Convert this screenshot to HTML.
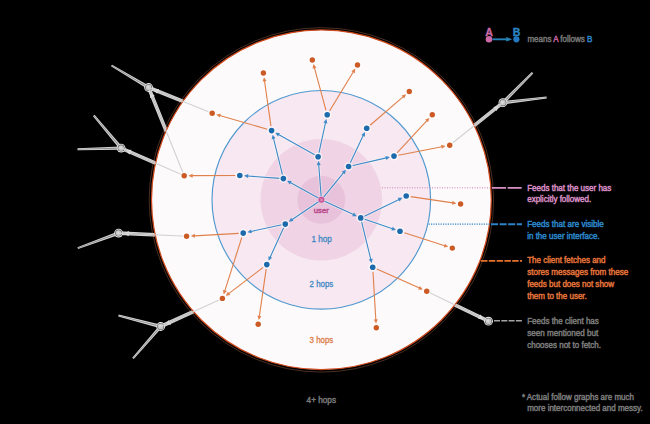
<!DOCTYPE html>
<html><head><meta charset="utf-8"><style>
html,body{margin:0;padding:0;background:#000;width:650px;height:424px;overflow:hidden}
svg{display:block}
text{font-family:"Liberation Sans",sans-serif}
</style></head><body>
<svg width="650" height="424" viewBox="0 0 650 424">
<rect width="650" height="424" fill="#000"/>
<line x1="212.2" y1="113.2" x2="148.6" y2="87.5" stroke="#d4d4d4" stroke-width="3.6"/><line x1="212.2" y1="113.2" x2="148.6" y2="87.5" stroke="#8c8c8c" stroke-width="1.2"/><line x1="184.2" y1="175.7" x2="148.6" y2="87.5" stroke="#d4d4d4" stroke-width="3.6"/><line x1="184.2" y1="175.7" x2="148.6" y2="87.5" stroke="#8c8c8c" stroke-width="1.2"/><line x1="184.2" y1="175.7" x2="121.1" y2="148.1" stroke="#d4d4d4" stroke-width="3.6"/><line x1="184.2" y1="175.7" x2="121.1" y2="148.1" stroke="#8c8c8c" stroke-width="1.2"/><line x1="186.6" y1="236.3" x2="118.6" y2="233.1" stroke="#d4d4d4" stroke-width="3.6"/><line x1="186.6" y1="236.3" x2="118.6" y2="233.1" stroke="#8c8c8c" stroke-width="1.2"/><line x1="222.4" y1="298.4" x2="160.7" y2="326.5" stroke="#d4d4d4" stroke-width="3.6"/><line x1="222.4" y1="298.4" x2="160.7" y2="326.5" stroke="#8c8c8c" stroke-width="1.2"/><line x1="449.7" y1="145.2" x2="502.9" y2="102.7" stroke="#d4d4d4" stroke-width="3.6"/><line x1="449.7" y1="145.2" x2="502.9" y2="102.7" stroke="#8c8c8c" stroke-width="1.2"/><line x1="426.7" y1="291.3" x2="488.5" y2="321.2" stroke="#d4d4d4" stroke-width="3.6"/><line x1="426.7" y1="291.3" x2="488.5" y2="321.2" stroke="#8c8c8c" stroke-width="1.2"/>
<polygon points="149.47,86.04 112.01,64.64 110.99,66.36 147.73,88.96" fill="#d6d6d6"/><polygon points="148.88,87.03 111.65,65.24 111.35,65.76 148.32,87.97" fill="#8e8e8e"/><polygon points="122.40,147.01 94.57,114.86 93.03,116.14 119.80,149.19" fill="#d6d6d6"/><polygon points="121.52,147.75 94.03,115.31 93.57,115.69 120.68,148.45" fill="#8e8e8e"/><polygon points="121.05,146.40 77.47,148.30 77.53,150.30 121.15,149.80" fill="#d6d6d6"/><polygon points="121.08,147.55 77.49,149.00 77.51,149.60 121.12,148.65" fill="#8e8e8e"/><polygon points="118.01,231.50 77.45,247.16 78.15,249.04 119.19,234.70" fill="#d6d6d6"/><polygon points="118.41,232.58 77.70,247.82 77.90,248.38 118.79,233.62" fill="#8e8e8e"/><polygon points="161.13,324.85 118.75,314.53 118.25,316.47 160.27,328.15" fill="#d6d6d6"/><polygon points="160.84,325.97 118.58,315.21 118.42,315.79 160.56,327.03" fill="#8e8e8e"/><polygon points="159.42,325.39 132.24,357.74 133.76,359.06 161.98,327.61" fill="#d6d6d6"/><polygon points="160.28,326.14 132.77,358.20 133.23,358.60 161.12,326.86" fill="#8e8e8e"/><polygon points="504.11,103.89 533.21,73.40 531.79,72.00 501.69,101.51" fill="#d6d6d6"/><polygon points="503.29,103.09 532.71,72.91 532.29,72.49 502.51,102.31" fill="#8e8e8e"/><polygon points="503.10,104.39 546.72,98.49 546.48,96.51 502.70,101.01" fill="#d6d6d6"/><polygon points="502.96,103.25 546.64,97.80 546.56,97.20 502.84,102.15" fill="#8e8e8e"/>
<circle cx="148.6" cy="87.5" r="4.4" fill="#eeeeee"/><circle cx="148.6" cy="87.5" r="3.5" fill="#505050"/><circle cx="148.6" cy="87.5" r="2.9" fill="#c6c6c6"/><circle cx="148.1" cy="87.0" r="1.3" fill="#dcdcdc"/><circle cx="121.1" cy="148.1" r="4.4" fill="#eeeeee"/><circle cx="121.1" cy="148.1" r="3.5" fill="#505050"/><circle cx="121.1" cy="148.1" r="2.9" fill="#c6c6c6"/><circle cx="120.6" cy="147.6" r="1.3" fill="#dcdcdc"/><circle cx="118.6" cy="233.1" r="4.4" fill="#eeeeee"/><circle cx="118.6" cy="233.1" r="3.5" fill="#505050"/><circle cx="118.6" cy="233.1" r="2.9" fill="#c6c6c6"/><circle cx="118.1" cy="232.6" r="1.3" fill="#dcdcdc"/><circle cx="160.7" cy="326.5" r="4.4" fill="#eeeeee"/><circle cx="160.7" cy="326.5" r="3.5" fill="#505050"/><circle cx="160.7" cy="326.5" r="2.9" fill="#c6c6c6"/><circle cx="160.2" cy="326.0" r="1.3" fill="#dcdcdc"/><circle cx="502.9" cy="102.7" r="4.4" fill="#eeeeee"/><circle cx="502.9" cy="102.7" r="3.5" fill="#505050"/><circle cx="502.9" cy="102.7" r="2.9" fill="#c6c6c6"/><circle cx="502.4" cy="102.2" r="1.3" fill="#dcdcdc"/><circle cx="488.5" cy="321.2" r="4.4" fill="#eeeeee"/><circle cx="488.5" cy="321.2" r="3.5" fill="#505050"/><circle cx="488.5" cy="321.2" r="2.9" fill="#c6c6c6"/><circle cx="488.0" cy="320.7" r="1.3" fill="#dcdcdc"/>
<polygon points="153.42,89.45 159.03,88.91 157.08,93.73" fill="#e0e0e0"/><polygon points="150.55,92.32 154.83,95.99 150.01,97.93" fill="#e0e0e0"/><polygon points="125.86,150.18 131.49,149.81 129.40,154.57" fill="#e0e0e0"/><polygon points="123.79,233.34 128.91,230.98 128.67,236.18" fill="#e0e0e0"/><polygon points="165.43,324.34 168.91,319.91 171.06,324.64" fill="#e0e0e0"/><polygon points="498.84,105.95 496.55,111.10 493.31,107.04" fill="#e0e0e0"/><polygon points="483.82,318.94 478.19,319.10 480.45,314.42" fill="#e0e0e0"/>
<circle cx="321.4" cy="199.9" r="172.2" fill="none" stroke="rgba(235,150,110,0.35)" stroke-width="0.9"/><circle cx="321.4" cy="199.8" r="169.9" fill="#fdfafc" stroke="#d04a1c" stroke-width="1.25"/>
<circle cx="321.3" cy="199.8" r="109.3" fill="#f7e8f1" stroke="#5299cf" stroke-width="1.15"/>
<circle cx="321.3" cy="199.8" r="60.8" fill="#f0d4e5"/>
<circle cx="321.3" cy="199.8" r="24" fill="#e8c2da"/>
<line x1="382" y1="187.8" x2="491" y2="187.8" stroke="#d27fb6" stroke-width="1" stroke-dasharray="1,1.5"/>
<line x1="492" y1="187.8" x2="522" y2="187.8" stroke="#d890c6" stroke-width="1.7" stroke-dasharray="14,1.6"/>
<line x1="428.6" y1="224.2" x2="491" y2="224.2" stroke="#3286c6" stroke-width="1.2" stroke-dasharray="1.2,1.2"/>
<line x1="491" y1="224.2" x2="522" y2="224.2" stroke="#2a82c8" stroke-width="1.9" stroke-dasharray="7,1.6"/>
<line x1="481" y1="260.9" x2="522" y2="260.9" stroke="#e4702e" stroke-width="1.9" stroke-dasharray="6.5,1.3"/>
<line x1="494" y1="320.7" x2="522" y2="320.7" stroke="#a4a4a4" stroke-width="1.5" stroke-dasharray="6,1.3"/>
<line x1="212.2" y1="113.2" x2="148.6" y2="87.5" stroke="#d2d2d2" stroke-width="1.1"/><line x1="184.2" y1="175.7" x2="148.6" y2="87.5" stroke="#d2d2d2" stroke-width="1.1"/><line x1="184.2" y1="175.7" x2="121.1" y2="148.1" stroke="#d2d2d2" stroke-width="1.1"/><line x1="186.6" y1="236.3" x2="118.6" y2="233.1" stroke="#d2d2d2" stroke-width="1.1"/><line x1="222.4" y1="298.4" x2="160.7" y2="326.5" stroke="#d2d2d2" stroke-width="1.1"/><line x1="449.7" y1="145.2" x2="502.9" y2="102.7" stroke="#d2d2d2" stroke-width="1.1"/><line x1="426.7" y1="291.3" x2="488.5" y2="321.2" stroke="#d2d2d2" stroke-width="1.1"/>
<line x1="270.97" y1="126.14" x2="264.51" y2="80.82" stroke="#e0804a" stroke-width="1.1"/><polygon points="263.99,77.16 266.56,81.03 262.60,81.60" fill="#e0804a"/><line x1="267.28" y1="129.33" x2="219.78" y2="115.42" stroke="#e0804a" stroke-width="1.1"/><polygon points="216.23,114.38 220.82,113.64 219.70,117.48" fill="#e0804a"/><line x1="326.02" y1="110.46" x2="314.37" y2="67.62" stroke="#e0804a" stroke-width="1.1"/><polygon points="313.40,64.05 316.43,67.58 312.57,68.63" fill="#e0804a"/><line x1="329.54" y1="110.96" x2="353.39" y2="71.75" stroke="#e0804a" stroke-width="1.1"/><polygon points="355.32,68.59 354.84,73.22 351.43,71.14" fill="#e0804a"/><line x1="370.11" y1="125.26" x2="403.31" y2="96.66" stroke="#e0804a" stroke-width="1.1"/><polygon points="406.12,94.24 404.24,98.50 401.63,95.47" fill="#e0804a"/><line x1="397.06" y1="152.80" x2="426.93" y2="120.59" stroke="#e0804a" stroke-width="1.1"/><polygon points="429.44,117.88 428.05,122.32 425.12,119.60" fill="#e0804a"/><line x1="398.42" y1="155.24" x2="441.95" y2="146.72" stroke="#e0804a" stroke-width="1.1"/><polygon points="445.58,146.01 441.84,148.78 441.07,144.85" fill="#e0804a"/><line x1="410.65" y1="196.65" x2="452.78" y2="202.85" stroke="#e0804a" stroke-width="1.1"/><polygon points="456.44,203.39 452.00,204.76 452.58,200.80" fill="#e0804a"/><line x1="404.28" y1="232.68" x2="444.78" y2="245.68" stroke="#e0804a" stroke-width="1.1"/><polygon points="448.30,246.82 443.69,247.44 444.91,243.63" fill="#e0804a"/><line x1="376.81" y1="269.03" x2="419.49" y2="288.08" stroke="#e0804a" stroke-width="1.1"/><polygon points="422.86,289.59 418.21,289.70 419.84,286.05" fill="#e0804a"/><line x1="372.97" y1="271.69" x2="375.83" y2="319.91" stroke="#e0804a" stroke-width="1.1"/><polygon points="376.05,323.61 373.81,319.53 377.80,319.30" fill="#e0804a"/><line x1="266.16" y1="269.05" x2="259.33" y2="316.38" stroke="#e0804a" stroke-width="1.1"/><polygon points="258.80,320.04 257.42,315.60 261.38,316.17" fill="#e0804a"/><line x1="263.22" y1="267.33" x2="228.69" y2="293.61" stroke="#e0804a" stroke-width="1.1"/><polygon points="225.74,295.86 227.87,291.72 230.30,294.90" fill="#e0804a"/><line x1="238.71" y1="233.35" x2="194.49" y2="235.85" stroke="#e0804a" stroke-width="1.1"/><polygon points="190.79,236.06 194.87,233.83 195.10,237.82" fill="#e0804a"/><line x1="241.83" y1="237.39" x2="224.80" y2="290.87" stroke="#e0804a" stroke-width="1.1"/><polygon points="223.67,294.40 223.04,289.79 226.86,291.00" fill="#e0804a"/><line x1="235.30" y1="175.52" x2="192.10" y2="175.67" stroke="#e0804a" stroke-width="1.1"/><polygon points="188.40,175.68 192.59,173.67 192.61,177.67" fill="#e0804a"/>
<line x1="318.84" y1="153.28" x2="325.42" y2="123.01" stroke="rgba(255,255,255,0.5)" stroke-width="2.7"/><line x1="318.84" y1="153.28" x2="325.52" y2="122.52" stroke="#3b89c5" stroke-width="1.1"/><polygon points="326.31,118.90 327.37,123.43 323.46,122.58" fill="#3b89c5"/><line x1="315.05" y1="154.99" x2="278.93" y2="134.71" stroke="rgba(255,255,255,0.5)" stroke-width="2.7"/><line x1="315.05" y1="154.99" x2="278.49" y2="134.47" stroke="#3b89c5" stroke-width="1.1"/><polygon points="275.26,132.66 279.90,132.97 277.95,136.46" fill="#3b89c5"/><line x1="282.56" y1="175.20" x2="273.61" y2="138.76" stroke="rgba(255,255,255,0.5)" stroke-width="2.7"/><line x1="282.56" y1="175.20" x2="273.49" y2="138.27" stroke="#3b89c5" stroke-width="1.1"/><polygon points="272.60,134.68 275.55,138.28 271.66,139.23" fill="#3b89c5"/><line x1="279.91" y1="178.35" x2="248.18" y2="176.10" stroke="rgba(255,255,255,0.5)" stroke-width="2.7"/><line x1="279.91" y1="178.35" x2="247.68" y2="176.06" stroke="#3b89c5" stroke-width="1.1"/><polygon points="243.99,175.80 248.32,174.10 248.04,178.09" fill="#3b89c5"/><line x1="350.10" y1="163.34" x2="363.11" y2="135.79" stroke="rgba(255,255,255,0.5)" stroke-width="2.7"/><line x1="350.10" y1="163.34" x2="363.32" y2="135.34" stroke="#3b89c5" stroke-width="1.1"/><polygon points="364.91,132.00 364.92,136.65 361.30,134.94" fill="#3b89c5"/><line x1="352.01" y1="165.72" x2="385.81" y2="157.98" stroke="rgba(255,255,255,0.5)" stroke-width="2.7"/><line x1="352.01" y1="165.72" x2="386.30" y2="157.86" stroke="#3b89c5" stroke-width="1.1"/><polygon points="389.91,157.04 386.26,159.93 385.37,156.03" fill="#3b89c5"/><line x1="363.85" y1="216.38" x2="398.63" y2="199.64" stroke="rgba(255,255,255,0.5)" stroke-width="2.7"/><line x1="363.85" y1="216.38" x2="399.08" y2="199.43" stroke="#3b89c5" stroke-width="1.1"/><polygon points="402.42,197.82 399.50,201.45 397.76,197.84" fill="#3b89c5"/><line x1="364.01" y1="219.03" x2="392.05" y2="228.59" stroke="rgba(255,255,255,0.5)" stroke-width="2.7"/><line x1="364.01" y1="219.03" x2="392.52" y2="228.75" stroke="#3b89c5" stroke-width="1.1"/><polygon points="396.02,229.94 391.40,230.48 392.69,226.70" fill="#3b89c5"/><line x1="361.53" y1="221.30" x2="370.71" y2="259.04" stroke="rgba(255,255,255,0.5)" stroke-width="2.7"/><line x1="361.53" y1="221.30" x2="370.83" y2="259.52" stroke="#3b89c5" stroke-width="1.1"/><polygon points="371.71,263.12 368.77,259.51 372.66,258.57" fill="#3b89c5"/><line x1="281.88" y1="224.83" x2="251.41" y2="231.34" stroke="rgba(255,255,255,0.5)" stroke-width="2.7"/><line x1="281.88" y1="224.83" x2="250.93" y2="231.45" stroke="#3b89c5" stroke-width="1.1"/><polygon points="247.31,232.22 251.00,229.39 251.83,233.30" fill="#3b89c5"/><line x1="283.85" y1="227.28" x2="270.29" y2="256.96" stroke="rgba(255,255,255,0.5)" stroke-width="2.7"/><line x1="283.85" y1="227.28" x2="270.08" y2="257.41" stroke="#3b89c5" stroke-width="1.1"/><polygon points="268.55,260.78 268.47,256.13 272.11,257.79" fill="#3b89c5"/>
<line x1="321.13" y1="196.31" x2="318.74" y2="165.08" stroke="rgba(255,255,255,0.5)" stroke-width="2.7"/><line x1="321.13" y1="196.31" x2="318.70" y2="164.58" stroke="#3b89c5" stroke-width="1.1"/><polygon points="318.42,160.89 320.74,164.92 316.75,165.23" fill="#3b89c5"/><line x1="323.61" y1="197.09" x2="343.29" y2="173.01" stroke="rgba(255,255,255,0.5)" stroke-width="2.7"/><line x1="323.61" y1="197.09" x2="343.60" y2="172.62" stroke="#3b89c5" stroke-width="1.1"/><polygon points="345.94,169.75 344.84,174.27 341.74,171.74" fill="#3b89c5"/><line x1="318.34" y1="198.09" x2="290.74" y2="182.69" stroke="rgba(255,255,255,0.5)" stroke-width="2.7"/><line x1="318.34" y1="198.09" x2="290.30" y2="182.45" stroke="#3b89c5" stroke-width="1.1"/><polygon points="287.07,180.65 291.71,180.95 289.76,184.44" fill="#3b89c5"/><line x1="318.50" y1="201.75" x2="292.27" y2="219.41" stroke="rgba(255,255,255,0.5)" stroke-width="2.7"/><line x1="318.50" y1="201.75" x2="291.85" y2="219.69" stroke="#3b89c5" stroke-width="1.1"/><polygon points="288.78,221.75 291.15,217.75 293.39,221.07" fill="#3b89c5"/><line x1="324.58" y1="201.26" x2="353.07" y2="214.39" stroke="rgba(255,255,255,0.5)" stroke-width="2.7"/><line x1="324.58" y1="201.26" x2="353.52" y2="214.60" stroke="#3b89c5" stroke-width="1.1"/><polygon points="356.89,216.14 352.23,216.20 353.91,212.57" fill="#3b89c5"/>
<circle cx="318.1" cy="156.7" r="4.3" fill="rgba(255,255,255,0.6)"/><circle cx="318.1" cy="156.7" r="2.8" fill="#1b6aab"/><circle cx="348.6" cy="166.5" r="4.3" fill="rgba(255,255,255,0.6)"/><circle cx="348.6" cy="166.5" r="2.8" fill="#1b6aab"/><circle cx="283.4" cy="178.6" r="4.3" fill="rgba(255,255,255,0.6)"/><circle cx="283.4" cy="178.6" r="2.8" fill="#1b6aab"/><circle cx="285.3" cy="224.1" r="4.3" fill="rgba(255,255,255,0.6)"/><circle cx="285.3" cy="224.1" r="2.8" fill="#1b6aab"/><circle cx="360.7" cy="217.9" r="4.3" fill="rgba(255,255,255,0.6)"/><circle cx="360.7" cy="217.9" r="2.8" fill="#1b6aab"/><circle cx="327.2" cy="114.8" r="4.3" fill="rgba(255,255,255,0.6)"/><circle cx="327.2" cy="114.8" r="2.8" fill="#1b6aab"/><circle cx="271.6" cy="130.6" r="4.3" fill="rgba(255,255,255,0.6)"/><circle cx="271.6" cy="130.6" r="2.8" fill="#1b6aab"/><circle cx="239.8" cy="175.5" r="4.3" fill="rgba(255,255,255,0.6)"/><circle cx="239.8" cy="175.5" r="2.8" fill="#1b6aab"/><circle cx="366.7" cy="128.2" r="4.3" fill="rgba(255,255,255,0.6)"/><circle cx="366.7" cy="128.2" r="2.8" fill="#1b6aab"/><circle cx="394.0" cy="156.1" r="4.3" fill="rgba(255,255,255,0.6)"/><circle cx="394.0" cy="156.1" r="2.8" fill="#1b6aab"/><circle cx="406.2" cy="196.0" r="4.3" fill="rgba(255,255,255,0.6)"/><circle cx="406.2" cy="196.0" r="2.8" fill="#1b6aab"/><circle cx="400.0" cy="231.3" r="4.3" fill="rgba(255,255,255,0.6)"/><circle cx="400.0" cy="231.3" r="2.8" fill="#1b6aab"/><circle cx="372.7" cy="267.2" r="4.3" fill="rgba(255,255,255,0.6)"/><circle cx="372.7" cy="267.2" r="2.8" fill="#1b6aab"/><circle cx="243.2" cy="233.1" r="4.3" fill="rgba(255,255,255,0.6)"/><circle cx="243.2" cy="233.1" r="2.8" fill="#1b6aab"/><circle cx="266.8" cy="264.6" r="4.3" fill="rgba(255,255,255,0.6)"/><circle cx="266.8" cy="264.6" r="2.8" fill="#1b6aab"/><circle cx="263.4" cy="73.0" r="4.1" fill="rgba(255,255,255,0.6)"/><circle cx="263.4" cy="73.0" r="2.7" fill="#cc5a24"/><circle cx="212.2" cy="113.2" r="4.1" fill="rgba(255,255,255,0.6)"/><circle cx="212.2" cy="113.2" r="2.7" fill="#cc5a24"/><circle cx="312.3" cy="60.0" r="4.1" fill="rgba(255,255,255,0.6)"/><circle cx="312.3" cy="60.0" r="2.7" fill="#cc5a24"/><circle cx="357.5" cy="65.0" r="4.1" fill="rgba(255,255,255,0.6)"/><circle cx="357.5" cy="65.0" r="2.7" fill="#cc5a24"/><circle cx="409.3" cy="91.5" r="4.1" fill="rgba(255,255,255,0.6)"/><circle cx="409.3" cy="91.5" r="2.7" fill="#cc5a24"/><circle cx="432.3" cy="114.8" r="4.1" fill="rgba(255,255,255,0.6)"/><circle cx="432.3" cy="114.8" r="2.7" fill="#cc5a24"/><circle cx="449.7" cy="145.2" r="4.1" fill="rgba(255,255,255,0.6)"/><circle cx="449.7" cy="145.2" r="2.7" fill="#cc5a24"/><circle cx="460.6" cy="204.0" r="4.1" fill="rgba(255,255,255,0.6)"/><circle cx="460.6" cy="204.0" r="2.7" fill="#cc5a24"/><circle cx="452.3" cy="248.1" r="4.1" fill="rgba(255,255,255,0.6)"/><circle cx="452.3" cy="248.1" r="2.7" fill="#cc5a24"/><circle cx="426.7" cy="291.3" r="4.1" fill="rgba(255,255,255,0.6)"/><circle cx="426.7" cy="291.3" r="2.7" fill="#cc5a24"/><circle cx="376.3" cy="327.8" r="4.1" fill="rgba(255,255,255,0.6)"/><circle cx="376.3" cy="327.8" r="2.7" fill="#cc5a24"/><circle cx="258.2" cy="324.2" r="4.1" fill="rgba(255,255,255,0.6)"/><circle cx="258.2" cy="324.2" r="2.7" fill="#cc5a24"/><circle cx="222.4" cy="298.4" r="4.1" fill="rgba(255,255,255,0.6)"/><circle cx="222.4" cy="298.4" r="2.7" fill="#cc5a24"/><circle cx="186.6" cy="236.3" r="4.1" fill="rgba(255,255,255,0.6)"/><circle cx="186.6" cy="236.3" r="2.7" fill="#cc5a24"/><circle cx="184.2" cy="175.7" r="4.1" fill="rgba(255,255,255,0.6)"/><circle cx="184.2" cy="175.7" r="2.7" fill="#cc5a24"/>
<circle cx="321.4" cy="199.8" r="3" fill="#c9589a"/>
<circle cx="321.4" cy="199.8" r="1.4" fill="#d98ab8"/>
<text x="321.3" y="212.6" font-size="7.8" fill="#b8488a" stroke="#b8488a" stroke-width="0.4" text-anchor="middle">user</text>
<text x="311.4" y="241.8" font-size="8.8" fill="#3f88c4" stroke="#3f88c4" stroke-width="0.3" textLength="20.4" lengthAdjust="spacingAndGlyphs">1 hop</text>
<text x="309.6" y="286.8" font-size="8.8" fill="#3f88c4" stroke="#3f88c4" stroke-width="0.3" textLength="23.6" lengthAdjust="spacingAndGlyphs">2 hops</text>
<text x="309.6" y="342.7" font-size="8.8" fill="#dc7a46" stroke="#dc7a46" stroke-width="0.3" textLength="23.6" lengthAdjust="spacingAndGlyphs">3 hops</text>
<text x="306.6" y="402.6" font-size="9" fill="#7a7a7a" stroke="#7a7a7a" stroke-width="0.45" textLength="29.4" lengthAdjust="spacingAndGlyphs">4+ hops</text>
<g font-size="9" stroke-width="0.5">
<text x="527.2" y="191.2" fill="#d78dc4" stroke="#d78dc4" textLength="84.1" lengthAdjust="spacingAndGlyphs">Feeds that the user has</text>
<text x="527.2" y="202.4" fill="#d78dc4" stroke="#d78dc4" textLength="64.0" lengthAdjust="spacingAndGlyphs">explicitly followed.</text>
<text x="527.2" y="227.2" fill="#2b86c8" stroke="#2b86c8" textLength="76.6" lengthAdjust="spacingAndGlyphs">Feeds that are visible</text>
<text x="527.2" y="238.8" fill="#2b86c8" stroke="#2b86c8" textLength="72.5" lengthAdjust="spacingAndGlyphs">in the user interface.</text>
<text x="527.2" y="263.4" fill="#e2733a" stroke="#e2733a" textLength="78.3" lengthAdjust="spacingAndGlyphs">The client fetches and</text>
<text x="527.2" y="275.2" fill="#e2733a" stroke="#e2733a" textLength="101.0" lengthAdjust="spacingAndGlyphs">stores messages from these</text>
<text x="527.2" y="287.0" fill="#e2733a" stroke="#e2733a" textLength="86.9" lengthAdjust="spacingAndGlyphs">feeds but does not show</text>
<text x="527.2" y="298.6" fill="#e2733a" stroke="#e2733a" textLength="59.6" lengthAdjust="spacingAndGlyphs">them to the user.</text>
<text x="527.2" y="323.9" fill="#7a7a7a" stroke="#7a7a7a" textLength="71.6" lengthAdjust="spacingAndGlyphs">Feeds the client has</text>
<text x="527.2" y="336.4" fill="#7a7a7a" stroke="#7a7a7a" textLength="71.1" lengthAdjust="spacingAndGlyphs">seen mentioned but</text>
<text x="527.2" y="347.9" fill="#7a7a7a" stroke="#7a7a7a" textLength="73.8" lengthAdjust="spacingAndGlyphs">chooses not to fetch.</text>
<text x="521.9" y="400.2" fill="#7a7a7a" stroke="#7a7a7a" textLength="112.1" lengthAdjust="spacingAndGlyphs">* Actual follow graphs are much</text>
<text x="527.2" y="411.4" fill="#7a7a7a" stroke="#7a7a7a" textLength="115.5" lengthAdjust="spacingAndGlyphs">more interconnected and messy.</text>
<text x="527.4" y="41.6" fill="#747474" stroke="#747474" textLength="65" lengthAdjust="spacingAndGlyphs">means <tspan fill="#c660a2" stroke="#c660a2">A</tspan> follows <tspan fill="#2b85c8" stroke="#2b85c8">B</tspan></text>
</g>
<text x="489.2" y="36.2" font-size="10.6" font-weight="bold" fill="#cc6aa8" stroke="#cc6aa8" stroke-width="0.3" text-anchor="middle">A</text>
<text x="516.7" y="36.2" font-size="10.6" font-weight="bold" fill="#2a86c6" stroke="#2a86c6" stroke-width="0.3" text-anchor="middle">B</text>
<line x1="492.50" y1="39.30" x2="506.70" y2="39.30" stroke="#2683b8" stroke-width="1.9"/><polygon points="512.20,39.30 506.20,41.60 506.20,37.00" fill="#2683b8"/>
<circle cx="489" cy="39.3" r="3.3" fill="#cc6aa8"/>
<circle cx="516.4" cy="39.3" r="3.1" fill="#2279bf"/>
</svg>
</body></html>
